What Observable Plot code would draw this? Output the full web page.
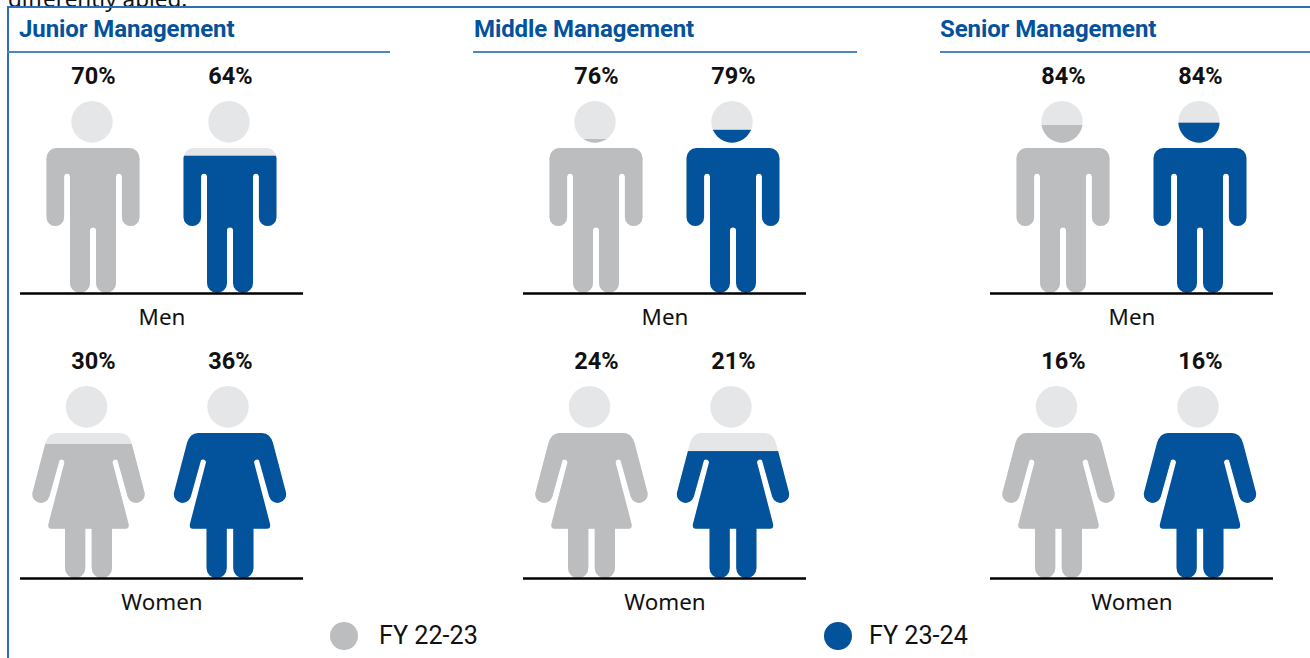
<!DOCTYPE html>
<html><head><meta charset="utf-8">
<script src="https://cdn.jsdelivr.net/npm/d3@7"></script>
<script src="https://cdn.jsdelivr.net/npm/@observablehq/plot@0.6"></script>
<style>
html,body{margin:0;padding:0;background:#fff;overflow:hidden}
#page{position:relative;width:1310px;height:658px;overflow:hidden}
.abs{position:absolute}
.cut{left:8px;top:-17px;font:22.5px "Noto Sans",sans-serif;color:#111;white-space:nowrap}
.frame{left:7px;top:6px;width:1310px;height:700px;border:2px solid #2a6fb8;box-sizing:border-box}
.head{font:700 24px Roboto,sans-serif;color:#03529c;white-space:nowrap;top:15px;letter-spacing:-.1px}
.under{height:1.5px;background:#4f86bd;top:51px}
.legend{font:25.2px Roboto,sans-serif;color:#111;white-space:nowrap;top:621px}
.swatch{width:28px;height:28px;border-radius:50%;top:622px}
svg{position:absolute;overflow:visible}
</style></head><body><div id="page"></div>
<script>
const levels = ["Junior Management", "Middle Management", "Senior Management"];
const genders = ["Men", "Women"];
const years = ["FY 22-23", "FY 23-24"];
const colors = ["#bcbdbf", "#03529c"];
const emptyColor = "#e5e6e8";
const menValues = [[70, 64], [76, 79], [84, 84]];
const womenValues = [[30, 36], [24, 21], [16, 16]];
// how high each pictogram is filled in the picture, as % of figure height
const menFill = [[76, 71.5], [80.2, 85], [87.5, 88.7]];
const womenFill = [[69.8, 76], [76, 66.1], [76, 76]];

const headLeft = [7, 473, 940], headRight = [390, 857, 1310], titleLeft = [19, 474, 940], plotLeft = [20, 523, 990];

const circle = (x, y, r) => `M${x - r},${y}a${r},${r} 0 1 0 ${2 * r},0a${r},${r} 0 1 0 ${-2 * r},0Z`;
const manPath = "M-36.5,-144H36.5A10,10 0 0 1 46.5,-134V-75.3A8.8,8.8 0 0 1 28.9,-75.3V-116A3,3 0 0 0 23,-116V-10A10,10 0 0 1 3,-10V-62A3,3 0 0 0 -3,-62V-10A10,10 0 0 1 -23,-10V-116A3,3 0 0 0 -28.9,-116V-75.3A8.8,8.8 0 0 1 -46.5,-75.3V-134A10,10 0 0 1 -36.5,-144Z" + circle(-1, -170, 20.7);
const womanPath = "M-32,-144H32Q40,-144 43,-134L56,-85A8.7,8.7 0 0 1 39.2,-80.6L29,-117A3,3 0 0 0 24,-115L40,-54Q41,-49 37,-49H23.5V-10A10,10 0 0 1 3.2,-10V-49H-3.2V-10A10,10 0 0 1 -23.5,-10V-49H-37Q-41,-49 -40,-54L-24,-115A3,3 0 0 0 -29,-117L-39.2,-80.6A8.7,8.7 0 0 1 -56,-85L-43,-134Q-40,-144 -32,-144Z" + circle(-2, -170, 20.7);

let clipId = 0;
function iconClip(rows) {
  return function (index, scales, values, dims, context, next) {
    const g = next(index, scales, values, dims, context);
    const y0 = scales.y(0);
    d3.select(g).selectAll("rect").each(function (_, i) {
      const d = rows[index[i]];
      const r = d3.select(this);
      const cx = +r.attr("x") + +r.attr("width") / 2 + (d.gender === "Women" && d.year === years[0] ? -4.5 : 0);
      const id = "icon-" + (++clipId);
      d3.select(g).append("clipPath").attr("id", id).append("path")
        .attr("d", d.gender === "Men" ? manPath : womanPath)
        .attr("transform", `translate(${cx},${y0}) scale(1,${145 / 144})`);
      r.attr("clip-path", `url(#${id})`);
    });
    return g;
  };
}

const page = document.getElementById("page");
function add(cls, style, text) {
  const e = document.createElement("div");
  e.className = "abs " + cls;
  Object.assign(e.style, style);
  if (text) e.textContent = text;
  page.appendChild(e);
}
add("cut", {}, "differently abled.");
add("frame", {});

levels.forEach((level, l) => {
  add("head", {left: titleLeft[l] + "px"}, level);
  add("under", {left: headLeft[l] + "px", width: headRight[l] - headLeft[l] + "px"});
  const rows = genders.flatMap((gender, g) => years.map((year, y) => ({
    gender, year,
    value: (g ? womenValues : menValues)[l][y],
    fill: (g ? womenFill : menFill)[l][y]
  })));
  const svg = Plot.plot({
    width: 283, height: 570,
    marginTop: 0, marginBottom: 0, marginLeft: 0, marginRight: 0,
    x: {type: "band", domain: years, range: [0, 283], paddingInner: 0.051, paddingOuter: 0.0584, round: false, axis: null},
    y: {domain: [0, 100], range: [240, 48], axis: null},
    fy: {domain: genders, range: [0, 570], padding: 0, round: false, axis: null},
    color: {domain: years, range: colors},
    style: {background: "transparent"},
    marks: [
      Plot.barY(rows, {x: "year", y: () => 100, fy: "gender", fill: emptyColor, inset: 0, render: iconClip(rows)}),
      Plot.barY(rows, {x: "year", y: "fill", fy: "gender", fill: "year", inset: 0, render: iconClip(rows)}),
      Plot.ruleY(genders, {y: () => 0, fy: d => d, stroke: "#000", strokeWidth: 2.4}),
      Plot.text(rows, {x: "year", y: () => 100, fy: "gender", dy: -25, text: d => d.value + "%",
        fontFamily: "Roboto", fontWeight: 700, fontSize: 23.5, fill: "#111"}),
      Plot.text(genders, {y: () => 0, fy: d => d, dy: 24, frameAnchor: "middle", text: d => d,
        fontFamily: "Noto Sans", fontSize: 22.4, fill: "#111"})
    ]
  });
  svg.style.left = plotLeft[l] + "px";
  svg.style.top = "53px";
  page.appendChild(svg);
});

[[330, 379], [824, 869]].forEach(([sx, tx], i) => {
  add("swatch", {left: sx + "px", background: colors[i]});
  add("legend", {left: tx + "px"}, years[i]);
});
</script></body></html>
